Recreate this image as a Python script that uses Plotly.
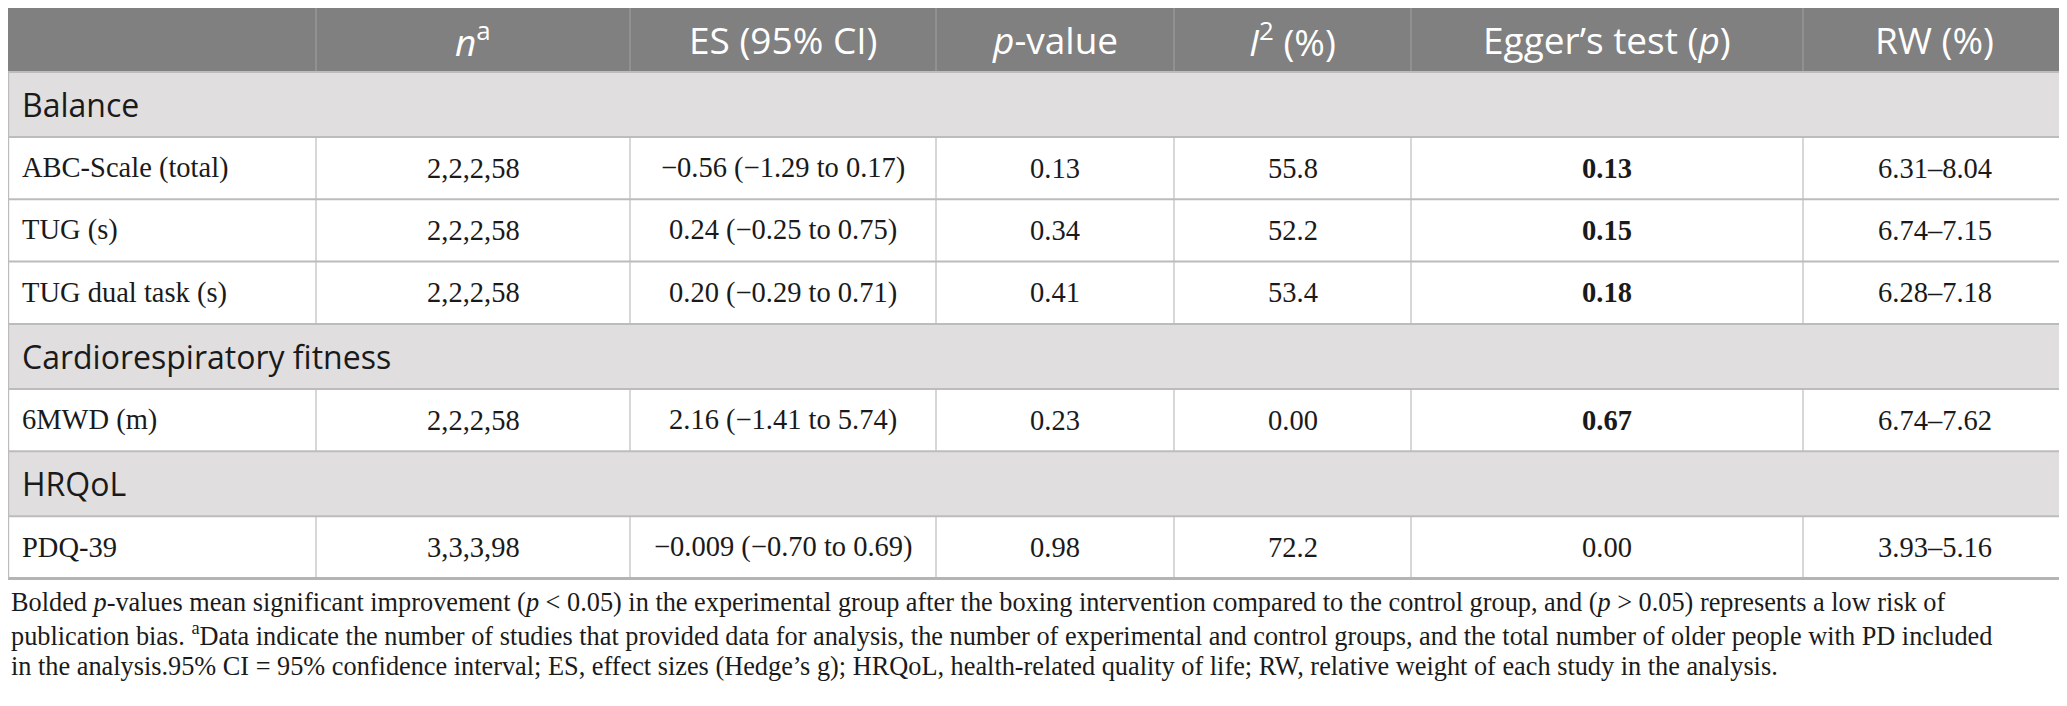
import plotly.graph_objects as go

# %% data
header = ["", "<i>n</i><sup>a</sup>", "ES (95% CI)", "<i>p</i>-value",
          "<i>I</i><sup>2</sup> (%)", "Egger’s test (<i>p</i>)", "RW (%)"]
sections = ["Balance", "Cardiorespiratory fitness", "HRQoL"]
outcomes = ["ABC-Scale (total)", "TUG (s)", "TUG dual task (s)", "6MWD (m)", "PDQ-39"]
outcome_section = [0, 0, 0, 1, 2]
n_studies = ["2,2,2,58", "2,2,2,58", "2,2,2,58", "2,2,2,58", "3,3,3,98"]
es_ci = ["−0.56 (−1.29 to 0.17)", "0.24 (−0.25 to 0.75)", "0.20 (−0.29 to 0.71)",
         "2.16 (−1.41 to 5.74)", "−0.009 (−0.70 to 0.69)"]
p_value = ["0.13", "0.34", "0.41", "0.23", "0.98"]
i_squared = ["55.8", "52.2", "53.4", "0.00", "72.2"]
egger_p = ["0.13", "0.15", "0.18", "0.67", "0.00"]
egger_bold = [True, True, True, True, False]
rw = ["6.31–8.04", "6.74–7.15", "6.28–7.18", "6.74–7.62", "3.93–5.16"]

footnote = [
    "Bolded <i>p</i>-values mean significant improvement (<i>p</i> &lt; 0.05) in the experimental group "
    "after the boxing intervention compared to the control group, and (<i>p</i> &gt; 0.05) represents a low risk of",
    "publication bias. <sup>a</sup>Data indicate the number of studies that provided data for analysis, "
    "the number of experimental and control groups, and the total number of older people with PD included",
    "in the analysis.95% CI = 95% confidence interval; ES, effect sizes (Hedge’s g); HRQoL, "
    "health-related quality of life; RW, relative weight of each study in the analysis.",
]

# %% layout of the grid (page pixels)
W, H = 2067, 706
OFF = 8  # default body margin of the html page
col_edges = [OFF, 316, 630, 936, 1174, 1411, 1803, 2066]
top = OFF
header_h, section_h, data_h = 64, 65, 62.3

HEADER_BG = "#7f807f"
SECTION_BG = "#e0dedf"
LINE = "#bcbcbc"
SANS = "Open Sans"
SERIF = "Liberation Serif"

# order of rows: section rows followed by their outcomes
rows = []
for s, name in enumerate(sections):
    rows.append(("section", name))
    for i, sec in enumerate(outcome_section):
        if sec == s:
            rows.append(("data", i))

shapes = []
annotations = []


def text(x, y, t, size, family, color="#1a1a1a", anchor="center"):
    annotations.append(dict(x=x, y=y, text=t, showarrow=False, xanchor=anchor,
                            yanchor="middle", xref="x", yref="y",
                            font=dict(size=size, family=family, color=color)))


def hline(y, color=LINE, width=2):
    shapes.append(dict(type="line", x0=col_edges[0], x1=col_edges[-1], y0=y, y1=y,
                       line=dict(color=color, width=width), layer="above"))


def vline(x, y0, y1, color=LINE, width=1.2):
    shapes.append(dict(type="line", x0=x, x1=x, y0=y0, y1=y1,
                       line=dict(color=color, width=width), layer="above"))


# header
y0, y1 = top, top + header_h
shapes.append(dict(type="rect", x0=col_edges[0], x1=col_edges[-1], y0=y0, y1=y1,
                   fillcolor=HEADER_BG, line=dict(width=0), layer="below"))
for c, h in enumerate(header):
    if h:
        text((col_edges[c] + col_edges[c + 1]) / 2, (y0 + y1) / 2 - 1, h, 37, SANS, "white")
for x in col_edges[1:-1]:
    vline(x, y0, y1, color="#9c9c9c", width=1.2)

y = y1
for kind, val in rows:
    if kind == "section":
        ya, yb = y, y + section_h
        shapes.append(dict(type="rect", x0=col_edges[0], x1=col_edges[-1], y0=ya, y1=yb,
                           fillcolor=SECTION_BG, line=dict(width=0), layer="below"))
        text(20, (ya + yb) / 2, val, 32, SANS, anchor="left")
    else:
        ya, yb = y, y + data_h
        i = val
        cells = [n_studies[i], es_ci[i], p_value[i], i_squared[i],
                 "<b>%s</b>" % egger_p[i] if egger_bold[i] else egger_p[i], rw[i]]
        text(20, (ya + yb) / 2, outcomes[i], 28.5, SERIF, anchor="left")
        for c, t in enumerate(cells, start=1):
            text((col_edges[c] + col_edges[c + 1]) / 2, (ya + yb) / 2, t, 28.5, SERIF)
        for x in col_edges[1:-1]:
            vline(x, ya, yb)
    hline(ya)
    y = yb
hline(y, color="#b4b4b4", width=3)
vline(col_edges[0] + 0.6, y1, y)
vline(col_edges[-1], top, y)

# footnote
for k, line in enumerate(footnote):
    text(OFF + 1, y + 24 + k * 32, line, 26.3, SERIF, anchor="left")

fig = go.Figure()
fig.update_layout(
    width=W - OFF, height=H - 2 * OFF, margin=dict(l=0, r=0, t=0, b=0),
    paper_bgcolor="white", plot_bgcolor="white",
    shapes=shapes, annotations=annotations, showlegend=False,
)
# axes in page pixels, so the plot area starts where the page margin ends
fig.update_xaxes(range=[OFF, W], visible=False, fixedrange=True)
fig.update_yaxes(range=[H - OFF, OFF], visible=False, fixedrange=True)

fig.write_html("out.html")
